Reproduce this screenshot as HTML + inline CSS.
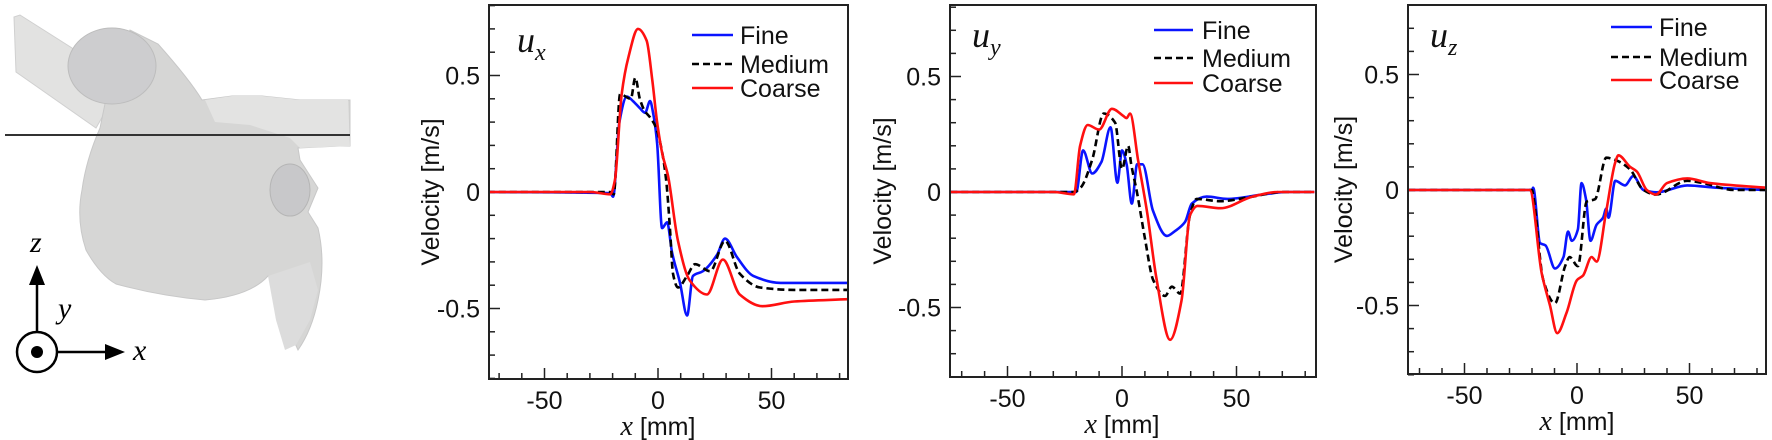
<!DOCTYPE html>
<html><head><meta charset="utf-8">
<style>
html,body{margin:0;padding:0;background:#fff;}
svg{display:block;font-family:"Liberation Sans",sans-serif;}
</style></head>
<body>
<svg id="fig" width="1772" height="440" viewBox="0 0 1772 440" xmlns="http://www.w3.org/2000/svg">
  <g>
    <path d="M14,17 L16,72 L96,128 L112,100 L72,48 L20,15 Z" fill="#e2e2e1" stroke="#d0d0d0"/>
    <path d="M100,128 Q86,160 82,190 Q76,220 86,250 Q100,275 116,284 Q160,296 205,300 Q250,296 268,276 L284,290 Q288,330 298,350 Q312,330 318,300 Q326,262 318,228 L308,212 L318,188 L300,160 L298,148 L340,146 L350,146 L350,100 L300,100 L262,96 L232,96 L202,100 Q190,80 158,44 L130,30 L112,70 Z" fill="#d6d6d5" stroke="#c8c8c8"/>
    <path d="M205,100 L232,96 L262,96 L300,100 L348,100 L350,146 L300,148 L290,138 L250,125 L215,122 Z" fill="#e3e3e2"/>
    <ellipse cx="112" cy="66" rx="44" ry="38" fill="#cdcdcf" stroke="#bdbdbd"/>
    <ellipse cx="290" cy="190" rx="20" ry="26" fill="#c8c8ca" stroke="#b5b5b5"/>
    <path d="M268,276 L276,320 L285,350 L296,345 L310,320 L318,290 L310,262 Z" fill="#dcdcdc"/>
    <line x1="5" y1="135" x2="350" y2="135" stroke="#333" stroke-width="2"/>
    <g stroke="#000" stroke-width="2.5" fill="#000">
      <line x1="37" y1="332" x2="37" y2="280"/>
      <polygon points="37,265 29,285 45,285" stroke="none"/>
      <circle cx="37" cy="352" r="20" fill="none"/>
      <circle cx="37" cy="352" r="6" stroke="none"/>
      <line x1="58" y1="352" x2="108" y2="352"/>
      <polygon points="125,352 105,344 105,360" stroke="none"/>
    </g>
    <text x="30" y="252" font-family="Liberation Serif,serif" font-style="italic" font-size="30">z</text>
    <text x="58" y="318" font-family="Liberation Serif,serif" font-style="italic" font-size="30">y</text>
    <text x="133" y="360" font-family="Liberation Serif,serif" font-style="italic" font-size="30">x</text>
  </g>
</svg>
<script>
// ---- Chart data (x in mm, velocity in m/s) ----
const xTicks = [-50, 0, 50];
const xTickLabels = ["-50", "0", "50"];
const yTicks = [0.5, 0, -0.5];
const yTickLabels = ["0.5", "0", "-0.5"];
const seriesNames = ["Fine", "Medium", "Coarse"];

// u_x
const uxFineX = [-75,-21,-19.8,-17,-13.7,-11,-8,-5.7,-3.5,-2,-0.4,1.8,4,6.2,9.7,12.8,15.4,19.8,26,29.5,34.8,42,54,65,84];
const uxFineV = [0,-0.005,-0.02,0.3,0.41,0.39,0.36,0.34,0.39,0.33,0.21,-0.155,-0.13,-0.26,-0.39,-0.53,-0.36,-0.34,-0.27,-0.2,-0.28,-0.36,-0.39,-0.39,-0.39];
const uxMedX = [-75,-21,-19.5,-16.7,-12,-10,-8,-6,-3.5,-1,1,3.5,5.3,6.6,8.8,12.8,16.3,23,29.5,36,45,60,84];
const uxMedV = [0,0,-0.01,0.42,0.4,0.49,0.4,0.35,0.32,0.28,0.21,0.06,-0.16,-0.35,-0.41,-0.36,-0.31,-0.34,-0.21,-0.35,-0.41,-0.42,-0.42];
const uxCoarseX = [-75,-30,-21,-19,-16,-13,-8.8,-5,-2.5,-0.4,2,4.4,8.8,14,21.6,28.6,36,46,60,84];
const uxCoarseV = [0,0,-0.01,0.05,0.42,0.58,0.7,0.65,0.48,0.3,0.16,0.07,-0.21,-0.38,-0.44,-0.29,-0.44,-0.49,-0.47,-0.46];

// u_y
const uyFineX = [-75,-21,-20,-17,-13,-9,-5,-2,0,2,4.3,6.6,9,13.5,19.6,23,27.5,30.5,37,46,62,72,84];
const uyFineV = [0,0,0,0.18,0.08,0.13,0.28,0.04,0.18,0.12,-0.05,0.12,0.12,-0.08,-0.19,-0.17,-0.13,-0.05,-0.02,-0.03,-0.01,0,0];
const uyMedX = [-75,-21,-18,-13,-8,-3,0,2.7,4,6.5,10,13.6,18.8,21.8,25.4,29.7,32.6,42.8,57,70,84];
const uyMedV = [0,0,0.02,0.14,0.34,0.3,0.1,0.2,0.12,0,-0.2,-0.38,-0.45,-0.41,-0.44,-0.1,-0.03,-0.04,-0.02,0,0];
const uyCoarseX = [-75,-30,-21,-18.3,-15,-10,-4.4,0.5,2,3.5,7,11,15,21,26,29.7,33,43,57,68,84];
const uyCoarseV = [0,0,-0.01,0.2,0.29,0.27,0.36,0.33,0.32,0.34,0.14,-0.09,-0.37,-0.64,-0.47,-0.1,-0.06,-0.07,-0.02,0,0];

// u_z
const uzFineX = [-75,-20,-19.5,-16.4,-14,-9.8,-6,-4,-2.3,0.4,2,4,6,8.7,11.6,13,14,17,21.3,25,29.5,35.5,49,62,84];
const uzFineV = [0,0,0.01,-0.23,-0.24,-0.34,-0.29,-0.18,-0.22,-0.17,0.03,-0.04,-0.22,-0.15,-0.12,-0.08,-0.12,0.04,0.02,0.06,0,-0.01,0.02,0.01,0];
const uzMedX = [-75,-20,-19.5,-15,-9.8,-5.3,-3.3,0.4,4.3,8,13,17,23.5,29.5,35,49,56,70,84];
const uzMedV = [0,0,-0.02,-0.39,-0.49,-0.33,-0.29,-0.33,-0.05,-0.04,0.14,0.13,0.09,0,-0.02,0.04,0.03,0,0];
const uzCoarseX = [-75,-21,-15.7,-12,-8.8,-4.6,0,2.7,6.5,8.7,13,17,18.4,23.6,26.6,31,35,40,49,59,84];
const uzCoarseV = [0,0,-0.36,-0.5,-0.62,-0.53,-0.39,-0.37,-0.29,-0.31,-0.09,0.12,0.15,0.1,0.08,0,-0.02,0.03,0.05,0.03,0.01];

const svg = document.getElementById('fig');
const NS = 'http://www.w3.org/2000/svg';
function mk(tag, attrs, parent) {
  const e = document.createElementNS(NS, tag);
  for (const k in attrs) e.setAttribute(k, attrs[k]);
  parent.appendChild(e);
  return e;
}
// monotone cubic interpolation in x (no overshoot, no loops)
function monotonePath(pts) {
  const n = pts.length;
  const dx = [], m = [], t = [];
  for (let i = 0; i < n - 1; i++) {
    dx[i] = pts[i + 1][0] - pts[i][0];
    m[i] = (pts[i + 1][1] - pts[i][1]) / dx[i];
  }
  t[0] = m[0]; t[n - 1] = m[n - 2];
  for (let i = 1; i < n - 1; i++) {
    if (m[i - 1] * m[i] <= 0) t[i] = 0;
    else {
      const w1 = 2 * dx[i] + dx[i - 1], w2 = dx[i] + 2 * dx[i - 1];
      t[i] = (w1 + w2) / (w1 / m[i - 1] + w2 / m[i]);
    }
  }
  let d = 'M' + pts[0][0].toFixed(1) + ',' + pts[0][1].toFixed(1);
  for (let i = 0; i < n - 1; i++) {
    const h = dx[i] / 3;
    d += ' C' + (pts[i][0] + h).toFixed(1) + ',' + (pts[i][1] + t[i] * h).toFixed(1) + ' ' +
         (pts[i + 1][0] - h).toFixed(1) + ',' + (pts[i + 1][1] - t[i + 1] * h).toFixed(1) + ' ' +
         pts[i + 1][0].toFixed(1) + ',' + pts[i + 1][1].toFixed(1);
  }
  return d;
}

const panels = [
  {id:'ux', L:489, R:848, T:5, B:379, z0:192, sy:233, x0:658, sx:2.27, title:430, sub:'x', lab:[517,52],
   leg:[692,733,740,[35,64,88]], series:[[uxFineX,uxFineV],[uxMedX,uxMedV],[uxCoarseX,uxCoarseV]]},
  {id:'uy', L:950, R:1316, T:5, B:377, z0:192, sy:231, x0:1122, sx:2.29, title:882, sub:'y', lab:[972,47],
   leg:[1154,1193,1202,[30,58,83]], series:[[uyFineX,uyFineV],[uyMedX,uyMedV],[uyCoarseX,uyCoarseV]]},
  {id:'uz', L:1408, R:1766, T:5, B:374, z0:190, sy:231, x0:1577, sx:2.25, title:1343, sub:'z', lab:[1430,47],
   leg:[1611,1652,1659,[27,57,80]], series:[[uzFineX,uzFineV],[uzMedX,uzMedV],[uzCoarseX,uzCoarseV]]}
];
const colors = ['#0a14ff', '#000', '#ff1010'];
const dashes = ['none', '7,4', 'none'];

panels.forEach(p => {
  const g = mk('g', {}, svg);
  
  
  const X = v => p.x0 + v * p.sx;
  const Y = v => p.z0 - v * p.sy;
  const clip = mk('clipPath', {id: 'clip-' + p.id}, g);
  mk('rect', {x: p.L, y: p.T, width: p.R - p.L, height: p.B - p.T}, clip);

  for (let v = -70; v <= 80; v += 10) {
    const major = v % 50 === 0;
    const t = mk('line', {x1: X(v), x2: X(v), y1: p.B, y2: p.B - (major ? 11 : 6), stroke: '#222', 'stroke-width': 1.5}, g);
    
    
  }
  for (let i = -8; i <= 8; i++) {
    const v = i / 10;
    const major = i % 5 === 0;
    const t = mk('line', {x1: p.L, x2: p.L + (major ? 11 : 6), y1: Y(v), y2: Y(v), stroke: '#222', 'stroke-width': 1.5}, g);
    
    
  }
  xTicks.forEach((v, i) => {
    const t = mk('text', {x: X(v), y: p.B + 30, 'text-anchor': 'middle', 'font-size': 25, fill: '#111'}, g);
    t.textContent = xTickLabels[i];
    
    
  });
  yTicks.forEach((v, i) => {
    const t = mk('text', {x: p.L - 9, y: Y(v) + 9, 'text-anchor': 'end', 'font-size': 25, fill: '#111'}, g);
    t.textContent = yTickLabels[i];
    
    
  });
  p.series.forEach((s, k) => {
    const pts = s[0].map((x, i) => [X(x), Y(s[1][i])]);
    const path = mk('path', {d: monotonePath(pts), fill: 'none', stroke: colors[k], 'stroke-width': 2.6, 'stroke-dasharray': dashes[k], 'stroke-linejoin': 'round', 'clip-path': 'url(#clip-' + p.id + ')'}, g);
    
    
  });
  const f = mk('rect', {x: p.L, y: p.T, width: p.R - p.L, height: p.B - p.T, fill: 'none', stroke: '#222', 'stroke-width': 2}, g);
  
  
  p.leg[3].forEach((cy, k) => {
    const ln = mk('line', {x1: p.leg[0], x2: p.leg[1], y1: cy, y2: cy, stroke: colors[k], 'stroke-width': 2.6, 'stroke-dasharray': dashes[k]}, g);
    
    
    const t = mk('text', {x: p.leg[2], y: cy + 9, 'font-size': 25, fill: '#111'}, g);
    t.textContent = seriesNames[k];
    
    
  });
  const yt = mk('text', {x: 0, y: 0, transform: 'translate(' + (p.title + 9) + ',' + ((p.T + p.B) / 2) + ') rotate(-90)', 'text-anchor': 'middle', 'font-size': 25, fill: '#111'}, g);
  yt.textContent = 'Velocity [m/s]';
  
  
  const xt = mk('text', {x: X(0), y: p.B + 56, 'text-anchor': 'middle', 'font-size': 25, fill: '#111'}, g);
  const xi = mk('tspan', {'font-family': 'Liberation Serif,serif', 'font-style': 'italic', 'font-size': 28}, xt);
  xi.textContent = 'x';
  const xr = mk('tspan', {}, xt);
  xr.textContent = ' [mm]';
  
  
  const lb = mk('text', {x: p.lab[0], y: p.lab[1], 'font-family': 'Liberation Serif,serif', 'font-style': 'italic', 'font-size': 36, fill: '#111'}, g);
  lb.textContent = 'u';
  const sb = mk('tspan', {'font-size': 24, dy: 8}, lb);
  sb.textContent = p.sub;
  
  
});
</script>
</body></html>
